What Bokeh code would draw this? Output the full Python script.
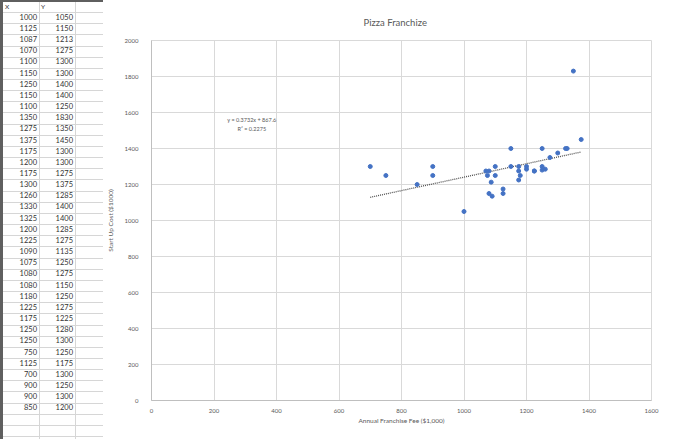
import numpy as np
from bokeh.plotting import figure
from bokeh.layouts import row
from bokeh.models import Range1d, SingleIntervalTicker, Label, Div
from bokeh.embed import file_html
from bokeh.resources import INLINE

# ---- data ----
fee = [1000, 1125, 1087, 1070, 1100, 1150, 1250, 1150, 1100, 1350, 1275, 1375,
       1175, 1200, 1175, 1300, 1260, 1330, 1325, 1200, 1225, 1090, 1075, 1080,
       1080, 1180, 1225, 1175, 1250, 1250, 750, 1125, 700, 900, 900, 850]
cost = [1050, 1150, 1213, 1275, 1300, 1300, 1400, 1400, 1250, 1830, 1350, 1450,
        1300, 1300, 1275, 1375, 1285, 1400, 1400, 1285, 1275, 1135, 1250, 1275,
        1150, 1250, 1275, 1225, 1280, 1300, 1250, 1175, 1300, 1250, 1300, 1200]
col_headers = ["X", "Y"]
title_text = "Pizza Franchize"
x_label = "Annual Franchise Fee ($1,000)"
y_label = "Start Up Cost ($1000)"

FONT = "Lato"
GRAY = "#595959"

# ---- spreadsheet part (HTML) ----
TW, H = 103, 439
row_h = 11.16
parts = []
for k in range(40):
    y = 12 + k * row_h
    parts.append(f'<div style="position:absolute;left:0;top:{y:.1f}px;width:{TW}px;height:1px;background:#d6d6d6"></div>')
for cx in (39, 75):
    parts.append(f'<div style="position:absolute;left:{cx}px;top:1px;width:1px;height:{H}px;background:#d6d6d6"></div>')
parts.append(f'<div style="position:absolute;left:0;top:0;width:3px;height:{H}px;background:#5f5f5f"></div>')
parts.append(f'<div style="position:absolute;left:0;top:0;width:{TW}px;height:1.5px;background:#5f5f5f"></div>')
txt = f"font-family:{FONT};font-size:7.5px;color:#333;line-height:10px;white-space:nowrap"
for hx, h in zip((5, 41), col_headers):
    parts.append(f'<div style="position:absolute;left:{hx}px;top:1.5px;{txt};font-size:6.5px">{h}</div>')
for i, (a, b) in enumerate(zip(fee, cost)):
    y = 17.7 + i * row_h - 5
    parts.append(f'<div style="position:absolute;right:{TW - 37}px;top:{y:.1f}px;{txt}">{a}</div>')
    parts.append(f'<div style="position:absolute;right:{TW - 73}px;top:{y:.1f}px;{txt}">{b}</div>')
html = (f'<div style="position:relative;width:{TW}px;height:{H}px;background:white;overflow:hidden">'
        + "".join(parts) + "</div>")
t = Div(text=html, width=TW, height=H, margin=0)

# ---- chart ----
CW = 674 - TW
p = figure(width=CW, height=H, x_range=Range1d(0, 1600), y_range=Range1d(0, 2000),
           toolbar_location=None, output_backend="svg",
           min_border_left=40, min_border_right=23, min_border_top=40, min_border_bottom=39)
p.background_fill_color = "white"
p.border_fill_color = "white"
p.outline_line_color = "#d9d9d9"

p.title.text = title_text
p.title.align = "left"
p.title.offset = 212
p.title.text_font = FONT
p.title.text_font_size = "9.5px"
p.title.text_font_style = "normal"
p.title.text_color = GRAY
p.title.standoff = 25

p.xaxis.ticker = SingleIntervalTicker(interval=200)
p.yaxis.ticker = SingleIntervalTicker(interval=200)
for ax in (p.xaxis, p.yaxis):
    ax.major_tick_line_color = None
    ax.minor_tick_line_color = None
    ax.axis_line_color = "#bfbfbf"
    ax.major_label_text_font = FONT
    ax.major_label_text_font_size = "6px"
    ax.major_label_text_color = GRAY
    ax.axis_label_text_font = FONT
    ax.axis_label_text_font_size = "6.5px"
    ax.axis_label_text_font_style = "normal"
    ax.axis_label_text_color = GRAY
p.xaxis.axis_label = x_label
p.yaxis.axis_label = y_label
p.xaxis.major_label_standoff = 2
p.yaxis.major_label_standoff = 7
p.xaxis.axis_label_standoff = 1
p.yaxis.axis_label_standoff = 8
p.grid.grid_line_color = "#d9d9d9"
p.grid.grid_line_width = 1

# trendline (least squares, like Excel)
slope, intercept = np.polyfit(fee, cost, 1)
xs = np.array([min(fee), max(fee)])
p.line(xs, slope * xs + intercept, line_color="#505050", line_width=1.3, line_dash="1 1")

p.scatter(fee, cost, size=4, fill_color="#4472C4", line_color="#4472C4")

r2 = np.corrcoef(fee, cost)[0, 1] ** 2
p.add_layout(Label(x=321, y=1561, text=f"y = {slope:.4f}x + {intercept:.1f}",
                   text_font=FONT, text_font_size="5.5px", text_color=GRAY,
                   text_align="center", text_baseline="middle"))
p.add_layout(Label(x=321, y=1511, text=f"R² = {r2:.4f}",
                   text_font=FONT, text_font_size="5.5px", text_color=GRAY,
                   text_align="center", text_baseline="middle"))

layout = row(t, p)
open("out.html", "w").write(file_html(layout, INLINE))
